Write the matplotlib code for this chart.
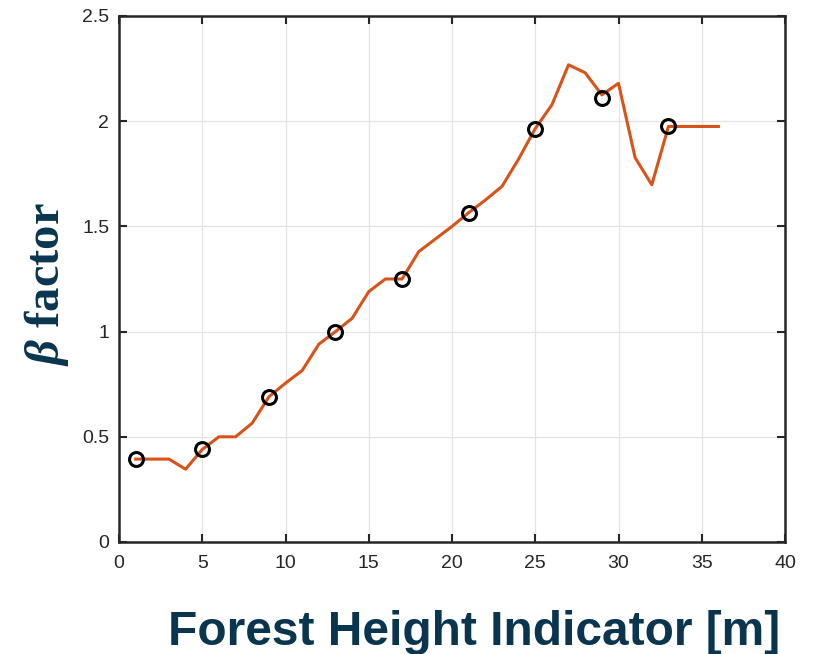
import numpy as np
import matplotlib
matplotlib.use('Agg')
import matplotlib.pyplot as plt

# forest height indicator [m] and beta factor
height = list(range(1, 37))
beta = [0.394, 0.394, 0.394, 0.346, 0.44, 0.50, 0.50, 0.565, 0.69, 0.755,
        0.815, 0.94, 1.0, 1.063, 1.19, 1.25, 1.25, 1.38, 1.44, 1.50,
        1.565, 1.625, 1.69, 1.82, 1.965, 2.078, 2.268, 2.23, 2.125, 2.18,
        1.826, 1.698, 1.975, 1.975, 1.975, 1.975]

# sampled points shown as open circles
marker_x = [1, 5, 9, 13, 17, 21, 25, 29, 33]
marker_y = [0.394, 0.44, 0.69, 1.0, 1.25, 1.565, 1.965, 2.11, 1.978]

xticks = [0, 5, 10, 15, 20, 25, 30, 35, 40]
yticks = [0, 0.5, 1, 1.5, 2, 2.5]
ytick_labels = ['0', '0.5', '1', '1.5', '2', '2.5']

plt.rcParams['mathtext.fontset'] = 'custom'
plt.rcParams['mathtext.it'] = 'Liberation Serif:italic:bold'

navy = '#0a354f'

fig = plt.figure(figsize=(8.14, 6.54), dpi=100)
ax = fig.add_axes([119/814, 1-542/654, 666/814, 526/654])

ax.plot(height, beta, color='#d95319', lw=2.2, zorder=3)
ax.plot(marker_x, marker_y, 'o', mfc='none', mec='black', mew=2.2, ms=10, zorder=4)

ax.set_xlim(0, 40)
ax.set_ylim(0, 2.5)
ax.set_xticks(xticks)
ax.set_yticks(yticks)
ax.set_yticklabels(ytick_labels)
ax.grid(True, color='#e4e4e4', lw=0.9)
ax.set_axisbelow(True)
ax.tick_params(direction='in', length=6, width=1.5, labelsize=14, pad=7,
               top=True, right=True, colors='#262626')
ax.tick_params(axis='x', pad=9)
for lab in ax.get_xticklabels() + ax.get_yticklabels():
    lab.set_fontfamily('Liberation Sans')
for s in ax.spines.values():
    s.set_linewidth(1.8)
    s.set_color('#262626')

fig.text(474/814, 1-645/654, 'Forest Height Indicator [m]', fontsize=34.5,
         fontweight='bold', family='Liberation Sans', color=navy,
         ha='center', va='baseline')
ax.set_ylabel(r'$\beta$ factor', fontsize=35, fontweight='bold',
              family='Liberation Serif', color=navy)
ax.yaxis.set_label_coords(-0.072, 0.49)

fig.savefig('out.png', dpi=100)
